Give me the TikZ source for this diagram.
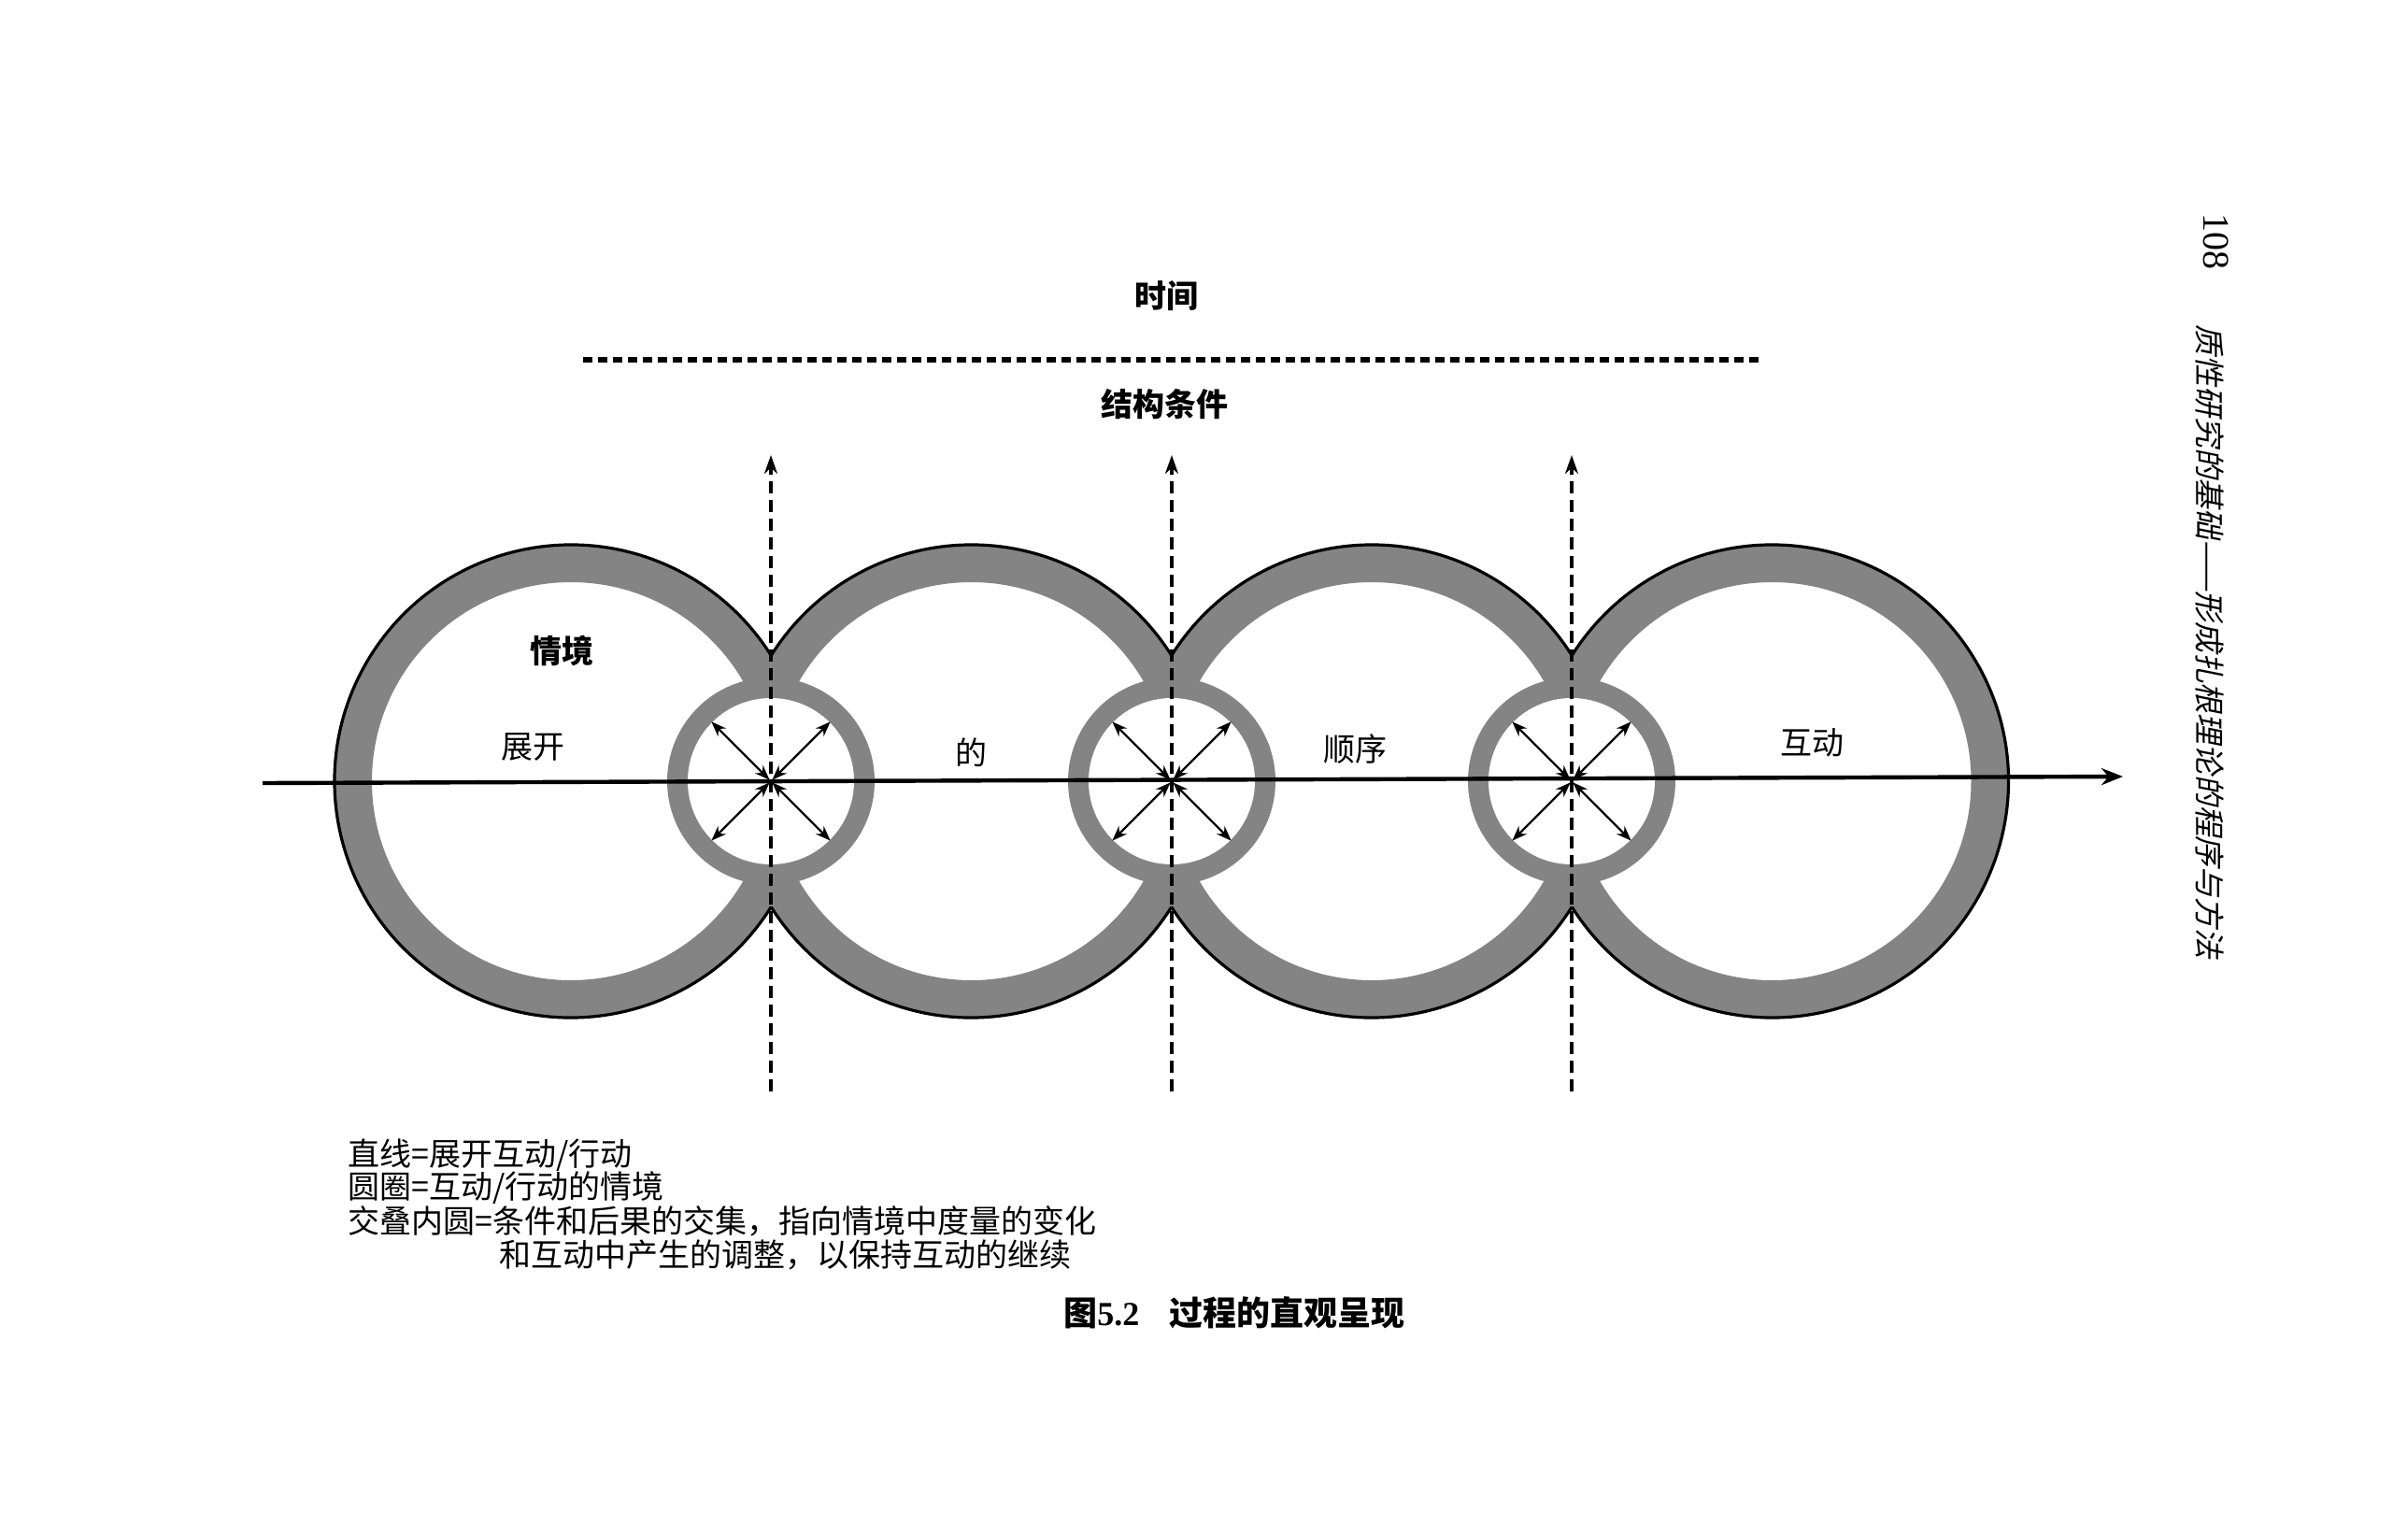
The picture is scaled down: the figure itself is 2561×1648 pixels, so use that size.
\documentclass[tikz,border=0pt]{standalone}
\usepackage{fontspec}
\setmainfont{Liberation Serif}
\newfontfamily\cjk{Noto Sans CJK SC}
\newfontfamily\cjksl[FakeSlant=0.2]{Noto Sans CJK SC}
\usetikzlibrary{arrows.meta}
\definecolor{ringgray}{RGB}{132,132,132}
\begin{document}
\begin{tikzpicture}[x=0.5pt,y=-0.5pt,
  ring/.style={fill=ringgray, even odd rule},
  outline/.style={line width=1.6pt},
  vdash/.style={line width=1.8pt, dash pattern=on 6.5pt off 3.5pt, -{Stealth[length=10pt,width=7pt]}},
  dbl/.style={line width=1.1pt, {Stealth[length=8pt,width=6pt]}-{Stealth[length=8pt,width=6pt]}},
  lbl/.style={font=\cjk\fontsize{17pt}{20pt}\selectfont, inner sep=0},
  blbl/.style={font=\cjk\bfseries\fontsize{17pt}{20pt}\selectfont, inner sep=0},
  leg/.style={font=\cjk\fontsize{17pt}{18pt}\selectfont, anchor=west, inner sep=0}]
\useasboundingbox (0,0) rectangle (2561,1648);
\fill[white] (0,0) rectangle (2561,1648);
% centres
\coordinate (c1) at (611,836);
\coordinate (c2) at (1039.5,836);
\coordinate (c3) at (1468,836);
\coordinate (c4) at (1896.5,836);
\coordinate (k1) at (825,836);
\coordinate (k2) at (1254,836);
\coordinate (k3) at (1682,836);
% big rings
\foreach \n in {1,...,4} \fill[ring] (c\n) circle[radius=253] (c\n) circle[radius=213];
% small rings
\foreach \n in {1,2,3} {\fill[ringgray] (k\n) circle[radius=111]; \fill[white] (k\n) circle[radius=89];}
% outlines
\draw[outline] (c1) ++(32.15:253) arc[start angle=32.15, end angle=327.85, radius=253];
\foreach \n in {2,3} {
  \draw[outline] (c\n) ++(32.15:253) arc[start angle=32.15, end angle=147.85, radius=253];
  \draw[outline] (c\n) ++(212.15:253) arc[start angle=212.15, end angle=327.85, radius=253];
}
\draw[outline] (c4) ++(147.85:253) arc[start angle=147.85, end angle=-147.85, radius=253];
% axis
\coordinate (a0) at (281,838);
\coordinate (a1) at (2272,831);
\draw[line width=2.2pt, -{Stealth[length=11.5pt,width=9pt]}] (a0) -- (a1);
% vertical dashed arrows
\foreach \n/\x in {1/825,2/1254,3/1682} {
  \coordinate (b\n) at (\x,1168);
  \coordinate (t\n) at (\x,487);
  \draw[vdash] (b\n) -- (t\n);
}
% double arrows
\foreach \n in {1,2,3} \foreach \a in {45,135,225,315}
  \draw[dbl] ([shift={(\a:2)}]k\n) -- ([shift={(\a:90)}]k\n);
% top dashed line
\coordinate (d0) at (624,385);
\coordinate (d1) at (1887,385);
\draw[line width=3pt, dash pattern=on 5pt off 3pt] (d0) -- (d1);
% labels
\node[blbl] (time) at (1248,317) {时间};
\node[blbl] (struct) at (1246,433) {结构条件};
\node[blbl] (sit) at (601,696) {情境};
\node[lbl] (w1) at (570,799) {展开};
\node[lbl] (w2) at (1039,805) {的};
\node[lbl] (w3) at (1450,802) {顺序};
\node[lbl] (w4) at (1939,795) {互动};
% legend
\node[leg] (l1) at (372,1236) {直线=展开互动/行动};
\node[leg] (l2) at (372,1271) {圆圈=互动/行动的情境};
\node[leg] (l3) at (372,1307) {交叠内圆=条件和后果的交集，指向情境中度量的变化};
\node[leg] (l4) at (534,1343) {和互动中产生的调整，以保持互动的继续};
% caption
\node[anchor=west, inner sep=0, font=\cjk\bfseries\fontsize{18pt}{20pt}\selectfont] (cap) at (1138,1405) {图{\rmfamily\bfseries 5.2}\hspace{0.9em}过程的直观呈现};
% margin
\node[rotate=-90, inner sep=0, font=\rmfamily\fontsize{20pt}{22pt}\selectfont] (pg) at (2372,259) {108};
\node[rotate=-90, inner sep=0, font=\cjksl\fontsize{16.4pt}{18pt}\selectfont] (rh) at (2365,687) {质性研究的基础——形成扎根理论的程序与方法};
\end{tikzpicture}
\end{document}
